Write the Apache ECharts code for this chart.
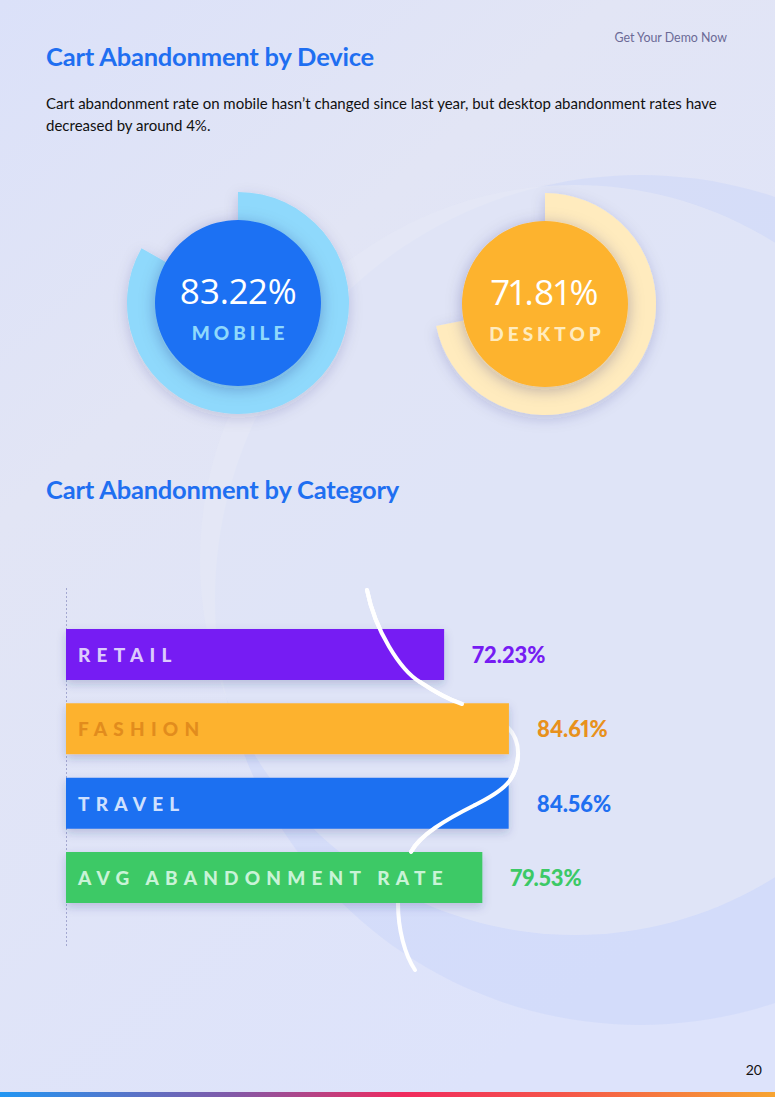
<!DOCTYPE html>
<html>
<head>
<meta charset="utf-8">
<script src="https://cdn.jsdelivr.net/npm/echarts@6/dist/echarts.min.js"></script>
<style>
  html, body { margin: 0; padding: 0; width: 775px; height: 1097px; overflow: hidden; font-family: Lato, "Noto Sans", sans-serif; }
  #chart { position: absolute; left: 0; top: 0; width: 775px; height: 1097px; }
  #chart text, #chart tspan { font-variant-numeric: proportional-nums !important; }
  .txt { position: absolute; white-space: nowrap; pointer-events: none; }
  .title { left: 46px; font-size: 25.5px; line-height: 32px; font-weight: bold; color: #1f6ff1; letter-spacing: -0.2px; }
  .body { left: 46px; font-size: 15px; line-height: 22px; color: #111; }
  .demo { right: 48px; top: 30px; font-size: 12.4px; line-height: 16px; color: #6b6a96; }
  .page { right: 13px; top: 1061px; font-size: 14px; line-height: 18px; color: #111; }
  .strip { position: absolute; left: 0; top: 1092px; width: 775px; height: 5px;
    background: linear-gradient(90deg, #2196f3 0%, #8259a8 30%, #f02a5e 52%, #f5544a 72%, #f7a431 100%); }
</style>
</head>
<body>
<div id="chart"></div>
<div class="txt demo">Get Your Demo Now</div>
<div class="txt title" style="top:40px">Cart Abandonment by Device</div>
<div class="txt body" style="top:92px">Cart abandonment rate on mobile hasn’t changed since last year, but desktop abandonment rates have<br>decreased by around 4%.</div>
<div class="txt title" style="top:473px">Cart Abandonment by Category</div>
<div class="txt page">20</div>
<div class="strip"></div>
<script>
// ---- data ----
const deviceNames = ['MOBILE', 'DESKTOP'];
const deviceRates = [83.22, 71.81];
const categories = ['RETAIL', 'FASHION', 'TRAVEL', 'AVG ABANDONMENT RATE'];
const categoryRates = [72.23, 84.61, 84.56, 79.53];

// ---- styles ----
const deviceRingColors = ['#8fd9fc', '#ffebbe'];
const deviceCoreColors = ['#1f71f3', '#fdb32e'];
const deviceNameColors = ['#8fd9fc', '#ffebbe'];
const deviceCenters = [[238, 303], [545, 304]];
const barColors = ['#761cf3', '#fdb22e', '#1f6ff1', '#3cc966'];
const barNameColors = ['#dccbfc', '#e28c1d', '#cfe0fe', '#c9f3d7'];
const barValueColors = ['#761cf3', '#e8911c', '#1f6ff1', '#3cc966'];

// tracked (letter-spaced) caps
const tracking = {};
deviceNames.forEach(n => tracking[n] = 4);
categories.forEach(n => tracking[n] = 6.2);

const FONT = 'Lato, "Noto Sans", sans-serif';
const NUMFONT = '"Open Sans", Lato, sans-serif';
const chart = echarts.init(document.getElementById('chart'), null, { renderer: 'svg' });

const series = [];
deviceNames.forEach((name, i) => {
  // progress ring
  series.push({
    type: 'pie',
    center: deviceCenters[i],
    radius: [76, 111],
    startAngle: 90,
    clockwise: true,
    silent: true,
    z: 2,
    label: { show: false },
    labelLine: { show: false },
    data: [
      { name: name, value: deviceRates[i],
        itemStyle: { color: deviceRingColors[i], shadowBlur: 14, shadowColor: 'rgba(40,50,110,0.18)', shadowOffsetY: 4 } },
      { name: 'rest', value: +(100 - deviceRates[i]).toFixed(2), itemStyle: { color: 'rgba(0,0,0,0)' } }
    ]
  });
  // core disc with centred label
  series.push({
    type: 'pie',
    center: deviceCenters[i],
    radius: [0, 83],
    silent: true,
    z: 3,
    labelLine: { show: false },
    itemStyle: { color: deviceCoreColors[i], shadowBlur: 16, shadowColor: 'rgba(30,40,100,0.28)', shadowOffsetY: 3 },
    label: {
      show: true,
      position: 'center',
      formatter: p => '{v|' + p.value.toFixed(2) + '%}\n{n|' + p.name + '}',
      rich: {
        v: { fontFamily: NUMFONT, fontSize: 35, fontWeight: 400, color: '#ffffff', lineHeight: 58, align: 'center' },
        n: { fontFamily: FONT, fontSize: 19, fontWeight: 900, color: deviceNameColors[i], lineHeight: 26, align: 'center',
             padding: [0, 0, 0, tracking[name]] }
      }
    },
    data: [{ name: name, value: deviceRates[i] }]
  });
});

series.push({
  type: 'bar',
  barWidth: 51,
  silent: true,
  z: 2,
  data: categoryRates.map((v, i) => ({
    value: v,
    itemStyle: { color: barColors[i], shadowBlur: 10, shadowColor: 'rgba(40,50,120,0.22)', shadowOffsetY: 4 },
    label: { color: barValueColors[i] }
  })),
  label: {
    show: true,
    position: 'right',
    distance: 28,
    fontFamily: FONT,
    fontSize: 22,
    fontWeight: 900,
    formatter: p => p.value.toFixed(2) + '%'
  }
});

// decorative white ribbon (cubic segments: start, cp1, cp2, end)
const ribbon = [
  [367, 590, 375, 630, 400, 670, 420, 682],
  [420, 682, 435, 692, 450, 700, 462, 704],
  [462, 704, 490, 712, 520, 725, 518, 756],
  [518, 756, 516, 780, 505, 790, 475, 805],
  [475, 805, 445, 820, 420, 835, 411, 852],
  [411, 852, 400, 875, 398, 890, 398, 903],
  [398, 903, 398, 930, 405, 955, 415, 970]
];
const ribbonOver = [0, 1, 3, 4];
const ribbonEls = [];
ribbon.forEach((s, k) => {
  const el = (z) => ({
    type: 'bezierCurve', z: z, silent: true,
    shape: { x1: s[0], y1: s[1], cpx1: s[2], cpy1: s[3], cpx2: s[4], cpy2: s[5], x2: s[6], y2: s[7] },
    style: { stroke: '#ffffff', lineWidth: 4, fill: null, lineCap: 'round' }
  });
  ribbonEls.push(el(1));
  if (ribbonOver.indexOf(k) >= 0) ribbonEls.push(el(5));
});

chart.setOption({
  animation: false,
  backgroundColor: {
    type: 'linear', x: 0, y: 0, x2: 0.6, y2: 1,
    colorStops: [
      { offset: 0, color: '#dbe1f9' },
      { offset: 0.35, color: '#e2e5f5' },
      { offset: 1, color: '#dde3fb' }
    ]
  },
  grid: { left: 66, right: 185.5, top: 617.3, bottom: 182.3, containLabel: false },
  xAxis: { type: 'value', min: 0, max: 100, show: false },
  yAxis: {
    type: 'category',
    data: categories,
    inverse: true,
    z: 6,
    axisLine: { show: false },
    axisTick: { show: false },
    splitLine: { show: false },
    axisLabel: {
      inside: true,
      margin: 12,
      fontFamily: FONT,
      fontSize: 19,
      fontWeight: 900,
      color: (v, i) => barNameColors[i]
    }
  },
  graphic: [
    { type: 'circle', z: 0, silent: true, shape: { cx: 640, cy: 600, r: 425 }, style: { fill: 'rgba(198,209,250,0.4)' } },
    { type: 'circle', z: 0, silent: true, shape: { cx: 575, cy: 560, r: 375 }, style: { fill: 'rgba(229,232,246,0.65)' } },
    { type: 'line', z: 1, silent: true, shape: { x1: 66.5, y1: 588, x2: 66.5, y2: 948 },
      style: { stroke: '#a4a8d0', lineWidth: 1, lineDash: [2, 2] } }
  ].concat(ribbonEls),
  series: series
});

function applyTracking() {
  document.querySelectorAll('#chart text, #chart tspan').forEach(el => {
    const t = el.textContent.trim();
    if (tracking[t] !== undefined) el.style.letterSpacing = tracking[t] + 'px';
  });
}
applyTracking();
chart.on('finished', applyTracking);
setTimeout(applyTracking, 0);
setTimeout(applyTracking, 100);
setTimeout(applyTracking, 400);
</script>
</body>
</html>
